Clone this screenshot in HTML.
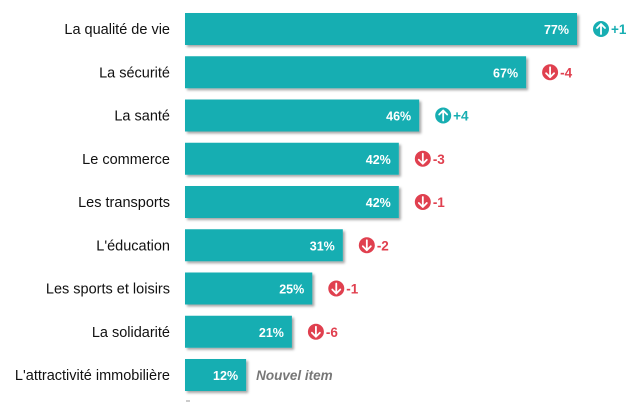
<!DOCTYPE html>
<html><head><meta charset="utf-8"><style>
body{margin:0;background:#fff;}
svg{display:block;font-family:"Liberation Sans",sans-serif;}
</style></head><body>
<svg id="chart" width="641" height="404" viewBox="0 0 641 404">
<defs><filter id="sh" x="-5%" y="-10%" width="115%" height="140%"><feDropShadow dx="2" dy="2" stdDeviation="1.2" flood-color="#000" flood-opacity="0.35"/></filter></defs>
<g id="bars"></g>
<line x1="186" y1="401" x2="190" y2="401" stroke="#999" stroke-width="1"/>
</svg>
<script>
const categories=["La qualité de vie","La sécurité","La santé","Le commerce","Les transports","L'éducation","Les sports et loisirs","La solidarité","L'attractivité immobilière"];
const values=[77,67,46,42,42,31,25,21,12];
const deltas=[1,-4,4,-3,-1,-2,-1,-6,null];
const x0=185, scale=(577-185)/77, top0=13, pitch=43.25, bh=32;
const xs=v=>x0+v*scale;
const ns="http://www.w3.org/2000/svg";
const g=document.getElementById('bars');
function mk(t,a){const e=document.createElementNS(ns,t);for(const k in a)e.setAttribute(k,a[k]);return e;}
categories.forEach((c,i)=>{
  const y=top0+i*pitch, cy=y+bh/2, xe=xs(values[i]);
  const lab=mk('text',{x:170,y:cy+5,'text-anchor':'end','font-size':14.5,fill:'#111'});
  lab.textContent=c;
  
  
  g.appendChild(lab);
  const r=mk('rect',{x:x0,y:y,width:xe-x0,height:bh,fill:'#17aeb2',filter:'url(#sh)'});
  
  
  g.appendChild(r);
  const v=mk('text',{x:xe-8,y:cy+5,'text-anchor':'end','font-size':12.5,'font-weight':'bold',fill:'#fff'});
  v.textContent=values[i]+'%';
  
  
  g.appendChild(v);
  const d=deltas[i];
  if(d===null){
    const t=mk('text',{x:xe+10,y:cy+5,'font-size':13.5,'font-style':'italic','font-weight':'bold',fill:'#777'});
    t.textContent='Nouvel item';
    
    
    g.appendChild(t);
  } else {
    const col=d>0?'#17aeb2':'#e0404f';
    const cx=xe+24;
    const ic=mk('g',{});
    
    
    ic.appendChild(mk('circle',{cx:cx,cy:cy,r:8,fill:col}));
    const s=d>0?-1:1;
    ic.appendChild(mk('path',{d:`M${cx} ${cy-5*s} L${cx} ${cy+5*s} M${cx-4} ${cy+1*s} L${cx} ${cy+5*s} L${cx+4} ${cy+1*s}`,stroke:'#fff','stroke-width':1.8,fill:'none','stroke-linecap':'round','stroke-linejoin':'round'}));
    g.appendChild(ic);
    const t=mk('text',{x:cx+10,y:cy+5,'font-size':13.5,'font-weight':'bold',fill:col});
    t.textContent=(d>0?'+':'-')+Math.abs(d);
    
    
    g.appendChild(t);
  }
});
</script>
</body></html>
